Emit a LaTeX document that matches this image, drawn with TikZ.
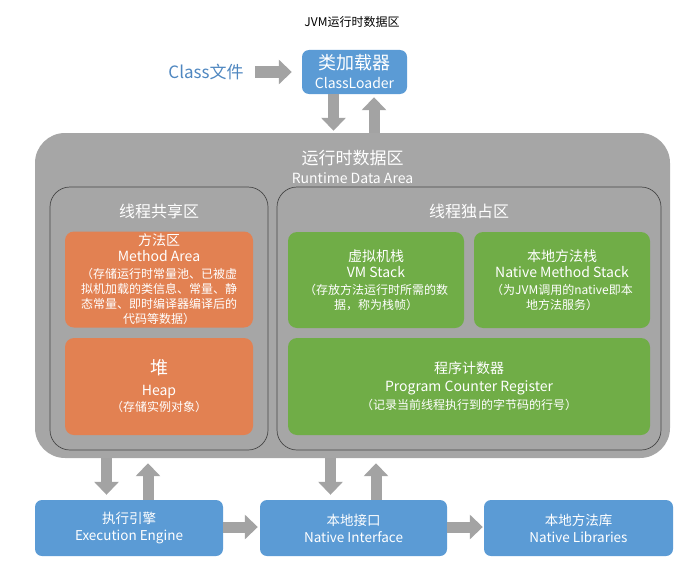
\documentclass[tikz,border=0pt]{standalone}
\usepackage{fontspec}
\setmainfont{Noto Sans CJK SC}
\usetikzlibrary{arrows.meta}

\definecolor{jvmblue}{RGB}{91,155,213}
\definecolor{panelgray}{RGB}{166,166,166}
\definecolor{arrowgray}{RGB}{163,163,163}
\definecolor{heaporange}{RGB}{226,129,82}
\definecolor{stackgreen}{RGB}{112,173,71}
\definecolor{classblue}{RGB}{79,135,192}

\begin{document}
\begin{tikzpicture}[x=1pt, y=-1pt,
  font=\fontsize{12}{15}\selectfont,
  bluebox/.style={fill=jvmblue, rounded corners=7pt, text=white, align=center,
                  minimum height=56pt, inner sep=0pt, font=\fontsize{13.5}{17}\selectfont},
  panel/.style={fill=panelgray, rounded corners=30pt, inner sep=0pt},
  region/.style={draw=black!72, fill=panelgray, line width=0.7pt, rounded corners=20pt, inner sep=0pt},
  heapbox/.style={fill=heaporange, rounded corners=9pt, text=white, align=center, inner sep=0pt},
  stackbox/.style={fill=stackgreen, rounded corners=9pt, text=white, align=center, inner sep=0pt},
  blk/.style={draw=arrowgray, line width=11pt, -{Triangle[length=13pt,width=24pt]}}
]
\useasboundingbox (0,0) rectangle (693,578);

% title
\node (title) at (352,22) {\fontsize{12}{14}\selectfont JVM运行时数据区};

% class loading
\node[text=classblue, font=\fontsize{17}{20}\selectfont, inner sep=0pt] (cf) at (206,72) {Class文件};
\node[bluebox, minimum width=105pt, minimum height=44pt, font=\fontsize{14}{19}\selectfont] (cl) at (354.5,72)
  {{\fontsize{18}{19}\selectfont 类加载器}\\ClassLoader};

% runtime data area
\node[panel, minimum width=635pt, minimum height=325pt] (rda) at (352.5,295.5) {};
\node[text=white, align=center, font=\fontsize{14}{19}\selectfont] (rdatitle) at (352.5,167)
  {{\fontsize{17}{19}\selectfont 运行时数据区}\\Runtime Data Area};

\node[region, minimum width=218pt, minimum height=263pt] (shared) at (159,318.5) {};
\node[region, minimum width=384pt, minimum height=263pt] (excl) at (469,318.5) {};
\node[text=white, font=\fontsize{16}{19}\selectfont] (sharedtitle) at (159,211) {线程共享区};
\node[text=white, font=\fontsize{16}{19}\selectfont] (excltitle) at (469,211) {线程独占区};

% shared areas
\node[heapbox, minimum width=188pt, minimum height=96pt] (ma) at (159,279.5)
  {{\fontsize{14}{15}\selectfont 方法区}\\[1pt]
   {\fontsize{14}{15}\selectfont Method Area}\\[2pt]
   （存储运行时常量池、已被虚\\拟机加载的类信息、常量、静\\态常量、即时编译器编译后的\\代码等数据）};
\node[heapbox, minimum width=188pt, minimum height=97pt] (heap) at (159,386.5)
  {{\fontsize{18}{15}\selectfont 堆}\\[6pt]
   {\fontsize{14}{15}\selectfont Heap}\\[1pt]
   （存储实例对象）};

% thread areas
\node[stackbox, minimum width=176pt, minimum height=96pt] (vms) at (376,280)
  {{\fontsize{14}{15}\selectfont 虚拟机栈}\\[1pt]
   {\fontsize{14}{15}\selectfont VM Stack}\\[2pt]
   （存放方法运行时所需的数\\据，称为栈帧）};
\node[stackbox, minimum width=176pt, minimum height=96pt] (nms) at (562,280)
  {{\fontsize{14}{15}\selectfont 本地方法栈}\\[1pt]
   {\fontsize{14}{15}\selectfont Native Method Stack}\\[2pt]
   （为JVM调用的native即本\\地方法服务）};
\node[stackbox, minimum width=362pt, minimum height=97pt] (pc) at (469,386.5)
  {{\fontsize{14}{15}\selectfont 程序计数器}\\[3pt]
   {\fontsize{14}{15}\selectfont Program Counter Register}\\[3pt]
   （记录当前线程执行到的字节码的行号）};

% execution side
\node[bluebox, minimum width=188pt] (ee) at (129,528) {执行引擎\\Execution Engine};
\node[bluebox, minimum width=187pt] (ni) at (353.5,528) {本地接口\\Native Interface};
\node[bluebox, minimum width=189pt] (nl) at (578.5,528) {本地方法库\\Native Libraries};

% arrows
\draw[blk, shorten <=11pt, shorten >=10pt] (cf.east) -- (cl.west);
\draw[blk, shorten >=2pt] ([xshift=-21pt]cl.south) -- ([xshift=-21pt]cl.south |- rda.north);
\draw[blk, shorten >=3pt] ([xshift=19.5pt]cl.south |- rda.north) -- ([xshift=19.5pt]cl.south);

\draw[blk, shorten >=5pt] ([xshift=-22.5pt]ee.north |- rda.south) -- ([xshift=-22.5pt]ee.north);
\draw[blk, shorten >=5pt] ([xshift=19pt]ee.north) -- ([xshift=19pt]ee.north |- rda.south);
\draw[blk, shorten >=5pt] ([xshift=-23pt]ni.north |- rda.south) -- ([xshift=-23pt]ni.north);
\draw[blk, shorten >=5pt] ([xshift=22.5pt]ni.north) -- ([xshift=22.5pt]ni.north |- rda.south);

\draw[blk, shorten >=2pt] ([yshift=1pt]ee.east) -- ([yshift=1pt]ni.west);
\draw[blk, shorten >=1pt] ([yshift=1pt]ni.east) -- ([yshift=1pt]nl.west);
\end{tikzpicture}
\end{document}
